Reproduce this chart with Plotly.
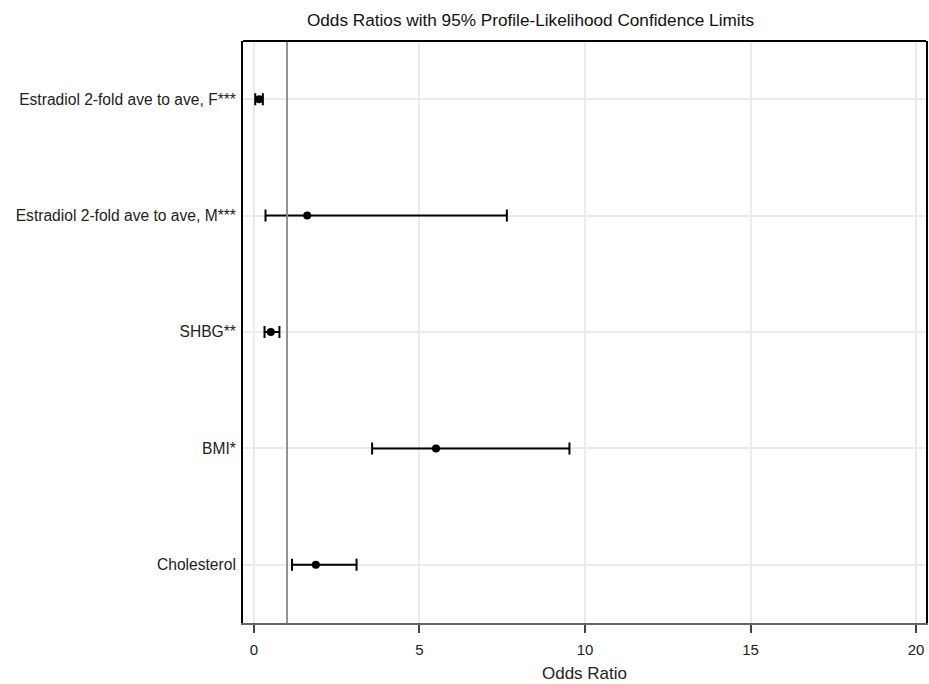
import plotly.graph_objects as go

categories = [
    "Estradiol 2-fold ave to ave, F***",
    "Estradiol 2-fold ave to ave, M***",
    "SHBG**",
    "BMI*",
    "Cholesterol",
]
odds_ratio = [0.16, 1.61, 0.51, 5.50, 1.87]
lower_cl = [0.04, 0.35, 0.32, 3.57, 1.15]
upper_cl = [0.27, 7.64, 0.77, 9.53, 3.10]
x_ticks = [0, 5, 10, 15, 20]
ref_value = 1

fig = go.Figure()
fig.add_trace(go.Scatter(
    x=odds_ratio, y=categories, mode="markers",
    marker=dict(color="black", size=8),
    error_x=dict(type="data", symmetric=False,
                 array=[u - o for u, o in zip(upper_cl, odds_ratio)],
                 arrayminus=[o - l for o, l in zip(odds_ratio, lower_cl)],
                 color="black", thickness=2, width=6),
    showlegend=False,
))
fig.add_vline(x=ref_value, line=dict(color="#888888", width=1.8))
fig.add_shape(type="line", xref="paper", yref="paper", x0=0, x1=1, y0=1, y1=1,
              line=dict(color="black", width=2))

fig.update_layout(
    width=929, height=684,
    margin=dict(l=243, r=1, t=41, b=61),
    paper_bgcolor="white", plot_bgcolor="white",
    font=dict(family="Liberation Sans, Arial, sans-serif", size=15, color="#222"),
    title=dict(text="Odds Ratios with 95% Profile-Likelihood Confidence Limits",
               x=0.571, xanchor="center", y=0.971, yanchor="middle",
               font=dict(size=17.2, color="#111")),
    xaxis=dict(range=[-0.33, 20.3], tickvals=x_ticks, ticks="outside", ticklen=8,
               tickwidth=1.5, tickcolor="#444", showgrid=True, gridcolor="#ebebeb",
               gridwidth=1.8, zeroline=False, showline=True, linecolor="#666",
               linewidth=1.8, ticklabelstandoff=4,
               title=dict(text="Odds Ratio", standoff=10, font=dict(size=17)),
               tickfont=dict(size=15)),
    yaxis=dict(range=[4.5, -0.5], showgrid=True, gridcolor="#ebebeb", gridwidth=1.8,
               showline=True, linecolor="black", linewidth=2, mirror=True,
               ticks="", ticklabelstandoff=2, tickfont=dict(size=15.6), zeroline=False),
)
fig.write_html("out.html", config={"displayModeBar": False},
               post_script="document.body.style.margin='0';document.body.style.overflow='hidden';")
